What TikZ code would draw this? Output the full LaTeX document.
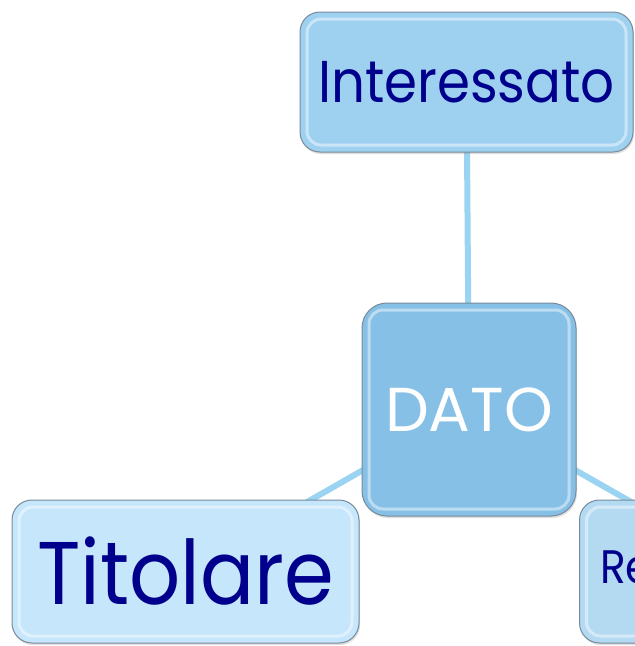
\documentclass[tikz,border=0pt]{standalone}
\usepackage{fontspec}
\setmainfont[FakeStretch=0.9]{Poppins}
\newfontfamily\widefont{Poppins}
\usetikzlibrary{backgrounds,shadows}
\definecolor{txt}{RGB}{0,0,140}
\definecolor{fInt}{RGB}{158,208,240}
\definecolor{fDato}{RGB}{134,192,230}
\definecolor{fTit}{RGB}{198,230,251}
\definecolor{fResp}{RGB}{180,218,242}
\definecolor{conn}{RGB}{155,212,242}
\definecolor{edgecol}{RGB}{120,138,155}
\tikzset{
  box/.style={draw=edgecol, line width=1pt, rounded corners=20pt, inner sep=0pt,
    text=txt, drop shadow={opacity=0.25, shadow xshift=1pt, shadow yshift=-2pt},
    path picture={\draw[white, opacity=0.45, line width=3pt, rounded corners=14pt]
      ([shift={(7pt,-7pt)}]path picture bounding box.north west) rectangle
      ([shift={(-7pt,7pt)}]path picture bounding box.south east);}},
  connector/.style={conn, line width=6pt}
}
\begin{document}
\begin{tikzpicture}[x=1pt, y=-1pt]
\clip (0,0) rectangle (635,646);
\node[box, fill=fInt, minimum width=333pt, minimum height=140pt,
  font=\fontsize{59}{59}\selectfont] (int) at (466.5,82) {Interessato};
\node[box, fill=fDato, minimum width=214pt, minimum height=213pt, rounded corners=25pt,
  text=white, font=\widefont\fontsize{62}{62}\selectfont] (dato) at (469,409.5) {DATO};
\node[box, fill=fTit, minimum width=347pt, minimum height=143pt,
  font=\fontsize{89}{89}\selectfont] (tit) at (185.5,571.5) {Titolare};
\node[box, fill=fResp, minimum width=347pt, minimum height=143pt,
  text width=306pt, align=left,
  font=\fontsize{47}{47}\selectfont] (resp) at (753,571.5) {Responsabile};
\begin{scope}[on background layer]
\draw[connector] (int.center) -- (dato.center);
\draw[connector] (dato.center) -- (tit.center);
\draw[connector] (dato.center) -- (resp.center);
\end{scope}
\end{tikzpicture}
\end{document}
